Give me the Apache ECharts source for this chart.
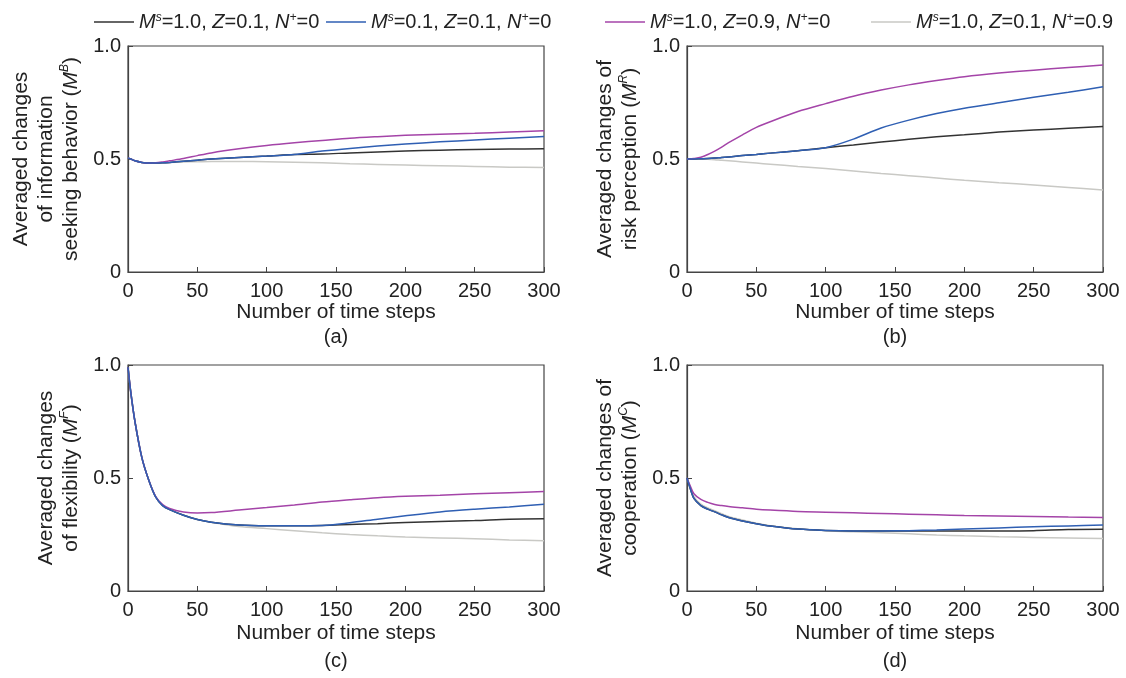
<!DOCTYPE html>
<html>
<head>
<meta charset="utf-8">
<script src="https://cdn.jsdelivr.net/npm/echarts@6/dist/echarts.min.js"></script>
<style>
  html, body { margin: 0; padding: 0; background: #fff; }
  #chart { width: 1126px; height: 678px; }
</style>
</head>
<body>
<div id="chart"></div>
<script>
// time steps shared by every panel
const steps = [0, 2, 5, 10, 15, 20, 25, 30, 40, 50, 60, 80, 100, 120, 140, 160, 180, 200, 225, 250, 275, 300];

// (a) information seeking behavior
const seekBlack  = [0.505, 0.5, 0.492, 0.485, 0.482, 0.482, 0.483, 0.485, 0.49, 0.495, 0.5, 0.507, 0.513, 0.52, 0.522, 0.527, 0.531, 0.535, 0.539, 0.542, 0.544, 0.545];
const seekBlue   = [0.505, 0.5, 0.492, 0.485, 0.482, 0.482, 0.483, 0.485, 0.49, 0.495, 0.5, 0.507, 0.513, 0.52, 0.535, 0.547, 0.557, 0.566, 0.576, 0.584, 0.592, 0.6];
const seekPurple = [0.505, 0.5, 0.492, 0.485, 0.482, 0.483, 0.487, 0.492, 0.502, 0.515, 0.527, 0.545, 0.56, 0.572, 0.582, 0.592, 0.599, 0.605, 0.61, 0.614, 0.619, 0.625];
const seekGray   = [0.505, 0.5, 0.492, 0.485, 0.482, 0.482, 0.483, 0.485, 0.487, 0.488, 0.489, 0.489, 0.488, 0.486, 0.483, 0.479, 0.476, 0.473, 0.47, 0.467, 0.464, 0.462];

// (b) risk perception
const riskBlack  = [0.5, 0.5, 0.5, 0.501, 0.502, 0.504, 0.507, 0.509, 0.515, 0.52, 0.526, 0.537, 0.55, 0.562, 0.575, 0.587, 0.598, 0.607, 0.619, 0.628, 0.636, 0.644];
const riskBlue   = [0.5, 0.5, 0.5, 0.501, 0.502, 0.504, 0.507, 0.509, 0.515, 0.52, 0.526, 0.537, 0.55, 0.588, 0.637, 0.672, 0.701, 0.725, 0.749, 0.773, 0.795, 0.82];
const riskPurple = [0.5, 0.5, 0.502, 0.508, 0.52, 0.535, 0.553, 0.572, 0.607, 0.64, 0.665, 0.71, 0.745, 0.778, 0.805, 0.828, 0.847, 0.864, 0.88, 0.893, 0.905, 0.916];
const riskGray   = [0.5, 0.5, 0.5, 0.5, 0.499, 0.497, 0.494, 0.492, 0.487, 0.482, 0.477, 0.467, 0.458, 0.447, 0.436, 0.426, 0.416, 0.406, 0.395, 0.385, 0.374, 0.363];

// (c) flexibility
const flexBlack  = [0.99, 0.88, 0.75, 0.59, 0.49, 0.415, 0.378, 0.36, 0.335, 0.316, 0.304, 0.292, 0.289, 0.289, 0.29, 0.294, 0.298, 0.303, 0.308, 0.312, 0.318, 0.32];
const flexBlue   = [0.99, 0.88, 0.75, 0.59, 0.49, 0.415, 0.378, 0.36, 0.335, 0.316, 0.304, 0.292, 0.289, 0.289, 0.29, 0.302, 0.318, 0.333, 0.35, 0.362, 0.372, 0.384];
const flexPurple = [0.99, 0.88, 0.75, 0.59, 0.49, 0.418, 0.382, 0.365, 0.35, 0.345, 0.347, 0.358, 0.369, 0.381, 0.394, 0.404, 0.413, 0.419, 0.424, 0.43, 0.435, 0.44];
const flexGray   = [0.99, 0.88, 0.75, 0.59, 0.49, 0.417, 0.38, 0.362, 0.336, 0.317, 0.304, 0.285, 0.276, 0.267, 0.258, 0.25, 0.244, 0.239, 0.235, 0.231, 0.226, 0.222];

// (d) cooperation
const coopBlack  = [0.5, 0.46, 0.41, 0.378, 0.362, 0.35, 0.337, 0.325, 0.31, 0.298, 0.288, 0.274, 0.268, 0.266, 0.266, 0.266, 0.266, 0.266, 0.266, 0.267, 0.272, 0.273];
const coopBlue   = [0.5, 0.46, 0.41, 0.378, 0.362, 0.35, 0.337, 0.325, 0.31, 0.298, 0.288, 0.274, 0.268, 0.266, 0.266, 0.267, 0.27, 0.274, 0.279, 0.284, 0.288, 0.292];
const coopPurple = [0.5, 0.47, 0.43, 0.405, 0.392, 0.383, 0.378, 0.374, 0.368, 0.362, 0.358, 0.352, 0.349, 0.346, 0.343, 0.34, 0.337, 0.334, 0.332, 0.33, 0.327, 0.325];
const coopGray   = [0.5, 0.465, 0.418, 0.385, 0.368, 0.355, 0.342, 0.33, 0.314, 0.3, 0.289, 0.275, 0.267, 0.262, 0.258, 0.253, 0.248, 0.244, 0.24, 0.237, 0.234, 0.232];

const seriesNames = ['Ms=1.0, Z=0.1, N+=0', 'Ms=0.1, Z=0.1, N+=0', 'Ms=1.0, Z=0.9, N+=0', 'Ms=1.0, Z=0.1, N+=0.9'];
const legendLabels = {
  'Ms=1.0, Z=0.1, N+=0': '{i|M}{sup|s}=1.0, {i|Z}=0.1, {i|N}{sup|+}=0',
  'Ms=0.1, Z=0.1, N+=0': '{i|M}{sup|s}=0.1, {i|Z}=0.1, {i|N}{sup|+}=0',
  'Ms=1.0, Z=0.9, N+=0': '{i|M}{sup|s}=1.0, {i|Z}=0.9, {i|N}{sup|+}=0',
  'Ms=1.0, Z=0.1, N+=0.9': '{i|M}{sup|s}=1.0, {i|Z}=0.1, {i|N}{sup|+}=0.9'
};
const legendLeft = [89, 321, 600, 866];
const colors = ['#333333', '#2f5fb3', '#a444a8', '#c9c9c5'];

const panels = [
  { data: [seekBlack, seekBlue, seekPurple, seekGray], yName: 'Averaged changes\nof information\nseeking behavior ({i|M}{sup|B})', left: 128, top: 46, tag: '(a)' },
  { data: [riskBlack, riskBlue, riskPurple, riskGray], yName: 'Averaged changes of\nrisk perception ({i|M}{sup|R})', left: 687, top: 46, tag: '(b)' },
  { data: [flexBlack, flexBlue, flexPurple, flexGray], yName: 'Averaged changes\nof flexibility ({i|M}{sup|F})', left: 128, top: 365, tag: '(c)' },
  { data: [coopBlack, coopBlue, coopPurple, coopGray], yName: 'Averaged changes of\ncooperation ({i|M}{sup|C})', left: 687, top: 365, tag: '(d)' }
];

const font = 'Liberation Sans, Arial, sans-serif';
const W = 416, H = 226;

const richStyle = {
  i: { fontStyle: 'italic', fontSize: 20, fontFamily: font, color: '#222' },
  sup: { fontStyle: 'italic', fontSize: 12, fontFamily: font, color: '#222', verticalAlign: 'top', lineHeight: 12, padding: [0, 0, 6, 0] }
};

const grids = [], xAxes = [], yAxes = [], series = [], graphics = [];
panels.forEach((p, k) => {
  grids.push({ left: p.left, top: p.top, width: W, height: H, show: true, borderColor: '#444', borderWidth: 1.2, backgroundColor: 'transparent' });
  xAxes.push({
    gridIndex: k, type: 'value', min: 0, max: 300, interval: 50,
    name: 'Number of time steps', nameLocation: 'middle', nameGap: k < 2 ? 29 : 32,
    nameTextStyle: { fontSize: 21, fontFamily: font, color: '#222' },
    axisLine: { show: true, lineStyle: { color: '#444', width: 1.2 } },
    axisTick: { show: true, inside: true, length: 5, lineStyle: { color: '#444' } },
    axisLabel: { fontSize: 20, fontFamily: font, color: '#222', margin: 9 },
    splitLine: { show: false }
  });
  yAxes.push({
    gridIndex: k, type: 'value', min: 0, max: 1, interval: 0.5,
    name: p.yName, nameLocation: 'middle', nameGap: 44,
    nameTextStyle: { fontSize: 21, fontFamily: font, color: '#222', lineHeight: 25, rich: {
      i: { fontStyle: 'italic', fontSize: 21, fontFamily: font, color: '#222', lineHeight: 25 },
      sup: { fontStyle: 'italic', fontSize: 12, fontFamily: font, color: '#222', verticalAlign: 'top', lineHeight: 14 }
    } },
    axisLine: { show: true, lineStyle: { color: '#444', width: 1.2 } },
    axisTick: { show: true, inside: true, length: 5, lineStyle: { color: '#444' } },
    axisLabel: { fontSize: 20, fontFamily: font, color: '#222', margin: 7,
      formatter: v => v === 1 ? '1.0' : (v === 0 ? '0' : String(v)) },
    splitLine: { show: false }
  });
  p.data.forEach((vals, s) => {
    series.push({
      name: seriesNames[s], type: 'line', xAxisIndex: k, yAxisIndex: k,
      data: steps.map((x, i) => [x, vals[i]]),
      symbol: 'none', smooth: 0.3, z: s === 3 ? 1 : 2 + (s === 1 ? 1 : 0),
      lineStyle: { color: colors[s], width: 1.5 },
      itemStyle: { color: colors[s] }
    });
  });
  graphics.push({
    type: 'text', x: p.left + W / 2, y: k < 2 ? 337 : 661,
    style: { text: p.tag, fontSize: 20, fontFamily: font, fill: '#222', textAlign: 'center', textVerticalAlign: 'middle' }
  });
});

// one legend per entry so each can sit where it does in the figure
const legends = seriesNames.map((name, s) => ({
  data: [name], left: legendLeft[s], top: 7, itemWidth: 40, itemHeight: 14,
  icon: 'path://M0,7L40,7L40,8.4L0,8.4Z',
  formatter: n => legendLabels[n],
  textStyle: { fontSize: 20, fontFamily: font, color: '#222', rich: richStyle }
}));

const chart = echarts.init(document.getElementById('chart'), null, { renderer: 'canvas' });
chart.setOption({
  animation: false,
  color: colors,
  legend: legends,
  grid: grids,
  xAxis: xAxes,
  yAxis: yAxes,
  series: series,
  graphic: graphics
});
</script>
</body>
</html>
